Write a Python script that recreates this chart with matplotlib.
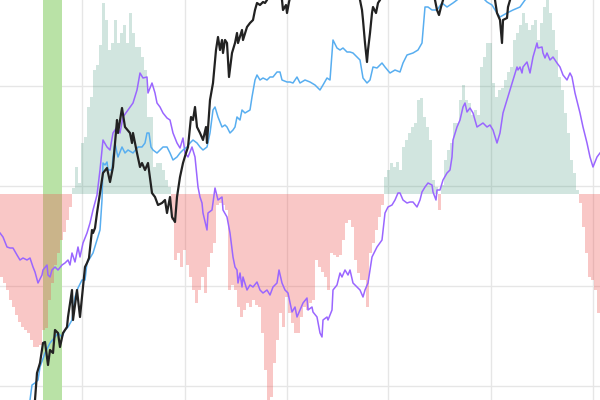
import numpy as np
import matplotlib
matplotlib.use("Agg")
import matplotlib.pyplot as plt

# histogram (one bar every 3 time units), positive = green, negative = red
hist = [
    -83, -89, -96, -106, -113, -121, -128, -133, -136, -139,
    -146, -153, -153, -151, -136, -134, -106, -89, -71, -59,
    -46, -38, -26, -13, 6, 27, 11, 51, 57, 87,
    97, 124, 129, 149, 191, 174, 144, 151, 174, 151,
    161, 169, 151, 181, 161, 147, 147, 137, 124, 77,
    77, 27, 31, 31, 24, 14, 7, -26, -66, -59,
    -73, -56, -71, -83, -96, -109, -96, -83, -99, -73,
    -59, -49, -11, -9, -11, -16, -96, -91, -96, -113,
    -123, -116, -109, -113, -106, -111, -113, -139, -176, -206,
    -203, -169, -146, -119, -133, -103, -119, -129, -139, -139,
    -123, -113, -116, -109, -106, -66, -73, -78, -83, -96,
    -59, -61, -63, -61, -46, -29, -26, -33, -66, -79,
    -86, -86, -113, -59, -49, -36, -23, -11, 17, 24,
    31, 27, 32, 24, 47, 54, 61, 67, 71, 94,
    96, 77, 67, 54, 14, 7, -16, 9, 34, 44,
    51, 71, 71, 94, 109, 94, 91, 79, 84, 79,
    127, 137, 151, 151, 111, 97, 104, 106, 114, 122,
    127, 154, 161, 169, 181, 171, 164, 169, 174, 154,
    171, 187, 194, 181, 164, 144, 117, 104, 81, 61,
    34, 21, 4, -9, -33, -59, -83, -86, -96, -119,
]
bar_x = np.arange(len(hist)) * 3 + 1.5

# price (black)
price_x = [33, 35, 37, 40, 43, 45, 48, 50, 53, 55, 58, 60, 63, 67, 68, 72, 73, 77, 80, 83,
           85, 87, 89, 92, 93, 95, 97, 100, 103, 107, 110, 113, 117, 118, 122, 125, 130, 132, 133, 137,
           140, 142, 145, 148, 152, 155, 158, 162, 165, 167, 170, 172, 175, 177, 180, 183, 186, 188, 191, 193,
           195, 197, 200, 203, 206, 207, 210, 213, 216, 218, 220, 222, 223, 225, 227, 229, 232, 235, 237, 238,
           242, 243, 247, 250, 253, 255, 257, 260, 263, 265, 267, 272, 278, 282, 283, 286, 287, 289, 292, 300,
           330, 358, 360, 362, 363, 365, 367, 368, 370, 372, 373, 376, 378, 380, 385, 410, 433, 435, 437, 439,
           441, 443, 448, 470, 492, 495, 497, 500, 502, 503, 507, 508, 510, 515, 560, 600]
price = [-10, 0, 27, 37, 57, 58, 35, 50, 47, 70, 67, 53, 67, 73, 83, 110, 80, 110, 83, 113,
         133, 137, 142, 170, 167, 172, 187, 207, 227, 232, 218, 233, 280, 267, 292, 273, 267, 257, 267, 247,
         233, 237, 230, 237, 207, 203, 195, 197, 200, 187, 203, 183, 178, 203, 223, 237, 247, 253, 283, 280,
         293, 273, 267, 260, 273, 257, 300, 317, 350, 363, 350, 360, 347, 360, 357, 323, 347, 357, 367, 357,
         370, 360, 373, 377, 380, 390, 397, 395, 398, 397, 400, 415, 410, 400, 390, 395, 387, 398, 410, 430,
         440, 410, 400, 390, 380, 357, 338, 350, 367, 387, 393, 387, 397, 400, 415, 440, 410, 400, 390, 385,
         393, 400, 415, 440, 410, 400, 387, 380, 357, 380, 382, 393, 400, 415, 440, 440]

# blue line
blue_x = [28, 30, 32, 35, 38, 40, 45, 50, 55, 58, 62, 65, 68, 72, 75, 78, 82, 85, 87, 90,
          93, 97, 100, 102, 103, 105, 107, 108, 112, 113, 115, 117, 118, 122, 125, 128, 133, 138, 142, 145,
          147, 149, 151, 153, 157, 160, 163, 167, 170, 173, 177, 180, 183, 187, 190, 193, 197, 200, 203, 207,
          210, 213, 215, 218, 222, 225, 227, 230, 233, 235, 237, 240, 242, 245, 250, 252, 255, 257, 260, 263,
          267, 270, 273, 277, 280, 282, 287, 290, 293, 297, 300, 305, 310, 315, 320, 323, 327, 330, 333, 337,
          340, 343, 347, 350, 353, 357, 360, 363, 367, 370, 373, 377, 382, 385, 390, 395, 400, 403, 407, 413,
          418, 422, 425, 428, 432, 437, 442, 447, 453, 457, 465, 480, 487, 492, 497, 500, 507, 513, 520, 525,
          535, 600]
blue = [-10, 0, 15, 17, 20, 33, 47, 57, 63, 67, 63, 70, 73, 80, 103, 112, 120, 120, 137, 142,
        147, 160, 170, 200, 237, 235, 238, 230, 230, 243, 257, 247, 243, 253, 247, 250, 247, 253, 253, 257,
        267, 267, 253, 250, 247, 250, 253, 253, 247, 240, 243, 247, 250, 253, 257, 260, 257, 253, 250, 253,
        267, 290, 293, 283, 273, 275, 273, 267, 270, 273, 283, 280, 290, 287, 290, 303, 320, 325, 320, 322,
        320, 323, 323, 328, 328, 320, 318, 318, 317, 323, 317, 320, 318, 315, 310, 315, 322, 320, 360, 352,
        350, 352, 348, 348, 347, 343, 340, 322, 317, 320, 333, 332, 337, 333, 327, 330, 328, 337, 345, 347,
        350, 357, 393, 393, 390, 390, 397, 393, 397, 400, 408, 405, 398, 395, 387, 383, 387, 390, 393, 400,
        410, 420]

# purple line
purple_x = [0, 3, 7, 10, 13, 17, 20, 23, 27, 30, 33, 35, 38, 42, 43, 47, 48, 50, 52, 55,
            58, 62, 65, 68, 70, 72, 75, 78, 80, 83, 87, 90, 93, 97, 100, 102, 103, 107, 110, 113,
            117, 120, 123, 128, 133, 137, 140, 143, 147, 148, 152, 155, 157, 160, 163, 167, 170, 173, 177, 180,
            183, 185, 188, 192, 195, 198, 200, 202, 203, 207, 208, 212, 215, 218, 222, 223, 227, 230, 233, 235,
            237, 238, 240, 242, 243, 247, 250, 253, 257, 260, 263, 267, 270, 273, 277, 279, 282, 285, 288, 292,
            295, 297, 300, 303, 307, 308, 312, 313, 317, 320, 322, 323, 327, 328, 332, 333, 337, 340, 342, 345,
            348, 350, 353, 357, 360, 363, 365, 368, 372, 377, 382, 385, 388, 392, 395, 398, 400, 403, 407, 410,
            413, 417, 420, 422, 425, 428, 432, 433, 436, 437, 440, 443, 447, 450, 452, 453, 457, 460, 463, 465,
            467, 470, 473, 477, 480, 483, 487, 490, 493, 497, 500, 503, 507, 510, 513, 517, 518, 520, 522, 523,
            527, 530, 533, 537, 538, 542, 543, 545, 547, 550, 553, 557, 560, 563, 567, 570, 572, 575, 580, 583,
            587, 590, 593, 597, 600]
purple = [167, 163, 153, 152, 152, 145, 140, 142, 140, 142, 133, 128, 117, 125, 130, 135, 125, 123, 130, 133,
          130, 135, 137, 140, 135, 147, 138, 153, 143, 157, 167, 177, 190, 205, 230, 250, 260, 253, 250, 267,
          273, 267, 283, 290, 297, 310, 327, 322, 323, 307, 317, 307, 297, 293, 287, 282, 280, 267, 257, 252,
          262, 247, 243, 253, 243, 213, 203, 197, 187, 170, 187, 190, 212, 200, 203, 190, 183, 167, 143, 133,
          130, 117, 127, 113, 123, 110, 115, 113, 118, 110, 107, 110, 105, 113, 117, 130, 117, 110, 107, 88,
          93, 83, 90, 97, 102, 90, 93, 88, 83, 67, 63, 80, 83, 80, 90, 110, 115, 127, 123, 130,
          125, 130, 117, 113, 110, 103, 110, 117, 143, 153, 160, 187, 193, 195, 200, 207, 207, 200, 197, 198,
          198, 193, 200, 208, 213, 217, 215, 208, 200, 210, 210, 220, 227, 230, 243, 260, 273, 280, 293, 297,
          288, 292, 287, 273, 275, 277, 273, 275, 270, 257, 267, 287, 300, 310, 320, 333, 330, 333, 327, 333,
          338, 327, 343, 357, 352, 353, 347, 342, 347, 340, 343, 337, 333, 325, 320, 327, 323, 307, 287, 273,
          257, 243, 233, 243, 247]

band = (43, 62)

fig = plt.figure(figsize=(6, 4), dpi=100)
ax = fig.add_axes([0, 0, 1, 1])
ax.set_xlim(0, 600)
ax.set_ylim(-206, 194)
for s in ax.spines.values():
    s.set_visible(False)

ax.set_xticks([82, 185, 287, 388, 491, 593])
ax.set_yticks([108, 8, -92, -192])
ax.grid(True, color="#e6e6e6", linewidth=1)
ax.set_axisbelow(True)
ax.tick_params(length=0, labelbottom=False, labelleft=False)

ax.axvspan(band[0], band[1], color="#b9e2a6", lw=0, zorder=1)

hist = np.array(hist)
colors = np.where(hist >= 0, "#2e8b6e", "#ef5350")
alphas = np.where(hist >= 0, 0.22, 0.32)
for xi, h, c, a in zip(bar_x, hist, colors, alphas):
    ax.bar(xi, h, width=2.4, color=c, alpha=a, lw=0, zorder=2)

ax2 = ax.twinx()
ax2.set_position([0, 0, 1, 1])
ax2.set_ylim(0, 400)
ax2.axis("off")
ax2.plot(purple_x, purple, color="#9a66ff", lw=1.1)
ax2.plot(blue_x, blue, color="#58aef0", lw=1.1)
ax2.plot(price_x, price, color="#222222", lw=1.6)

fig.savefig("out.png", dpi=100)
